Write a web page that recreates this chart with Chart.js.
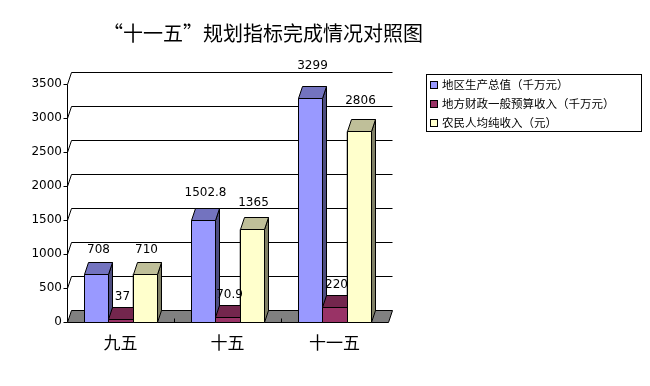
<!DOCTYPE html>
<html>
<head>
<meta charset="utf-8">
<script src="https://cdn.jsdelivr.net/npm/chart.js@4/dist/chart.umd.min.js"></script>
<style>
    body { margin: 0; background: #fff; }
    canvas { display: block; }
</style>
</head>
<body>
<canvas id="plan-chart" width="650" height="386"></canvas>
<script>
const chartTitle = "“十一五”规划指标完成情况对照图";
const categories = ["九五", "十五", "十一五"];
const seriesNames = ["地区生产总值（千万元）", "地方财政一般预算收入（千万元）", "农民人均纯收入（元）"];
const gdpValues = [708, 1502.8, 3299];
const revenueValues = [37, 70.9, 220];
const incomeValues = [710, 1365, 2806];
const valueLabels = [["708", "1502.8", "3299"], ["37", "70.9", "220"], ["710", "1365", "2806"]];
const yMax = 3500;
const yStep = 500;

// front colour, top colour, side colour
const colors = [
    ["#9999FF", "#7373BF", "#4D4D80"],
    ["#993366", "#73264D", "#4D1A33"],
    ["#FFFFCC", "#BFBF99", "#808066"]
];

const DX = 4;
const DY = -12;
const digitFont = "12px 'DejaVu Sans'";
const cjkFont = "'Noto Sans CJK SC'";

function px(v) {
    return Math.round(v) + 0.5;
}

function drawFace(ctx, points, fill) {
    ctx.beginPath();
    ctx.moveTo(points[0][0], points[0][1]);
    for (let i = 1; i < points.length; i++) {
        ctx.lineTo(points[i][0], points[i][1]);
    }
    ctx.closePath();
    ctx.fillStyle = fill;
    ctx.fill();
    ctx.stroke();
}

const depthPlugin = {
    id: "depth3d",
    beforeDatasetsDraw(chart) {
        const ctx = chart.ctx;
        const a = chart.chartArea;
        const y = chart.scales.y;
        const left = px(a.left);
        const right = px(a.right);
        ctx.save();
        ctx.strokeStyle = "#000";
        ctx.lineWidth = 1;

        // back wall grid with the slant on the left wall
        ctx.beginPath();
        for (let v = yStep; v <= yMax; v += yStep) {
            const py = px(y.getPixelForValue(v));
            ctx.moveTo(left, py);
            ctx.lineTo(left + DX, py + DY);
            ctx.lineTo(right + DX, py + DY);
        }
        // tick marks
        for (let v = 0; v <= yMax; v += yStep) {
            const py = px(y.getPixelForValue(v));
            ctx.moveTo(left - 4, py);
            ctx.lineTo(left, py);
        }
        // value axis
        ctx.moveTo(left, px(y.getPixelForValue(yMax)));
        ctx.lineTo(left, px(y.getPixelForValue(0)));
        ctx.stroke();

        // floor
        const fy = px(y.getPixelForValue(0));
        drawFace(ctx, [[left, fy], [right, fy], [right + DX, fy + DY], [left + DX, fy + DY]], "#808080");

        // category ticks on the floor edge
        const step = (a.right - a.left) / categories.length;
        ctx.beginPath();
        for (let i = 1; i < categories.length; i++) {
            const tx = px(a.left + step * i);
            ctx.moveTo(tx, fy);
            ctx.lineTo(tx, fy - 4);
        }
        ctx.stroke();
        ctx.restore();
    },
    afterDatasetsDraw(chart) {
        const ctx = chart.ctx;
        const bars = [];
        chart.data.datasets.forEach((ds, i) => {
            chart.getDatasetMeta(i).data.forEach((el, j) => {
                bars.push({ el: el, ds: i, idx: j, value: ds.data[j] });
            });
        });
        bars.sort((p, q) => p.el.x - q.el.x);

        ctx.save();
        ctx.strokeStyle = "#000";
        ctx.lineWidth = 1;
        bars.forEach(b => {
            const c = colors[b.ds];
            const l = px(b.el.x - b.el.width / 2);
            const r = px(b.el.x + b.el.width / 2);
            const t = px(b.el.y);
            const bt = px(b.el.base);
            drawFace(ctx, [[r, t], [r + DX, t + DY], [r + DX, bt + DY], [r, bt]], c[2]);
            drawFace(ctx, [[l, t], [l + DX, t + DY], [r + DX, t + DY], [r, t]], c[1]);
            drawFace(ctx, [[l, t], [r, t], [r, bt], [l, bt]], c[0]);
        });

        ctx.fillStyle = "#000";
        ctx.font = digitFont;
        ctx.textAlign = "center";
        ctx.textBaseline = "middle";
        bars.forEach(b => {
            const lift = 22 + b.value * 0.003;
            ctx.fillText(valueLabels[b.ds][b.idx], b.el.x + 2, b.el.y - lift);
        });
        ctx.restore();
    },
    afterDraw(chart) {
        const ctx = chart.ctx;
        ctx.save();
        ctx.fillStyle = "#000";
        ctx.textAlign = "center";
        ctx.textBaseline = "middle";
        ctx.font = "20px " + cjkFont;
        ctx.fillText(chartTitle, 263, 33);

        // legend box
        ctx.strokeStyle = "#000";
        ctx.lineWidth = 1;
        ctx.strokeRect(426.5, 74.5, 215, 57);
        ctx.font = "11.5px " + cjkFont;
        ctx.textAlign = "left";
        const rows = [85, 104, 123];
        chart.data.datasets.forEach((ds, i) => {
            ctx.fillStyle = ds.backgroundColor;
            ctx.fillRect(430.5, rows[i] - 3.5, 7, 7);
            ctx.strokeRect(430.5, rows[i] - 3.5, 7, 7);
            ctx.fillStyle = "#000";
            ctx.fillText(ds.label, 442, rows[i]);
        });
        ctx.restore();
    }
};

const chartId = document.getElementById("plan-chart");
const planChart = new Chart(chartId, {
    type: "bar",
    data: {
        labels: categories,
        datasets: [
            { label: seriesNames[0], data: gdpValues, backgroundColor: colors[0][0] },
            { label: seriesNames[1], data: revenueValues, backgroundColor: colors[1][0] },
            { label: seriesNames[2], data: incomeValues, backgroundColor: colors[2][0] }
        ]
    },
    options: {
        responsive: false,
        animation: false,
        devicePixelRatio: 1,
        layout: { padding: { left: 0, top: 84, right: 262, bottom: 0 } },
        datasets: {
            bar: {
                categoryPercentage: 0.673,
                barPercentage: 1,
                borderColor: "#000",
                borderWidth: 1
            }
        },
        plugins: {
            legend: { display: false },
            tooltip: { enabled: false }
        },
        scales: {
            x: {
                grid: { display: false, drawTicks: false },
                border: { display: false },
                ticks: { color: "#000", padding: 10, font: { family: "Noto Sans CJK SC", size: 17 } },
                afterFit(s) { s.height = 64; }
            },
            y: {
                min: 0,
                max: yMax,
                grid: { display: false, drawTicks: false },
                border: { display: false },
                ticks: {
                    stepSize: yStep,
                    color: "#000",
                    padding: 5,
                    font: { family: "DejaVu Sans", size: 12 },
                    callback: v => String(v)
                },
                afterFit(s) { s.width = 67; }
            }
        }
    },
    plugins: [depthPlugin]
});
</script>
</body>
</html>
